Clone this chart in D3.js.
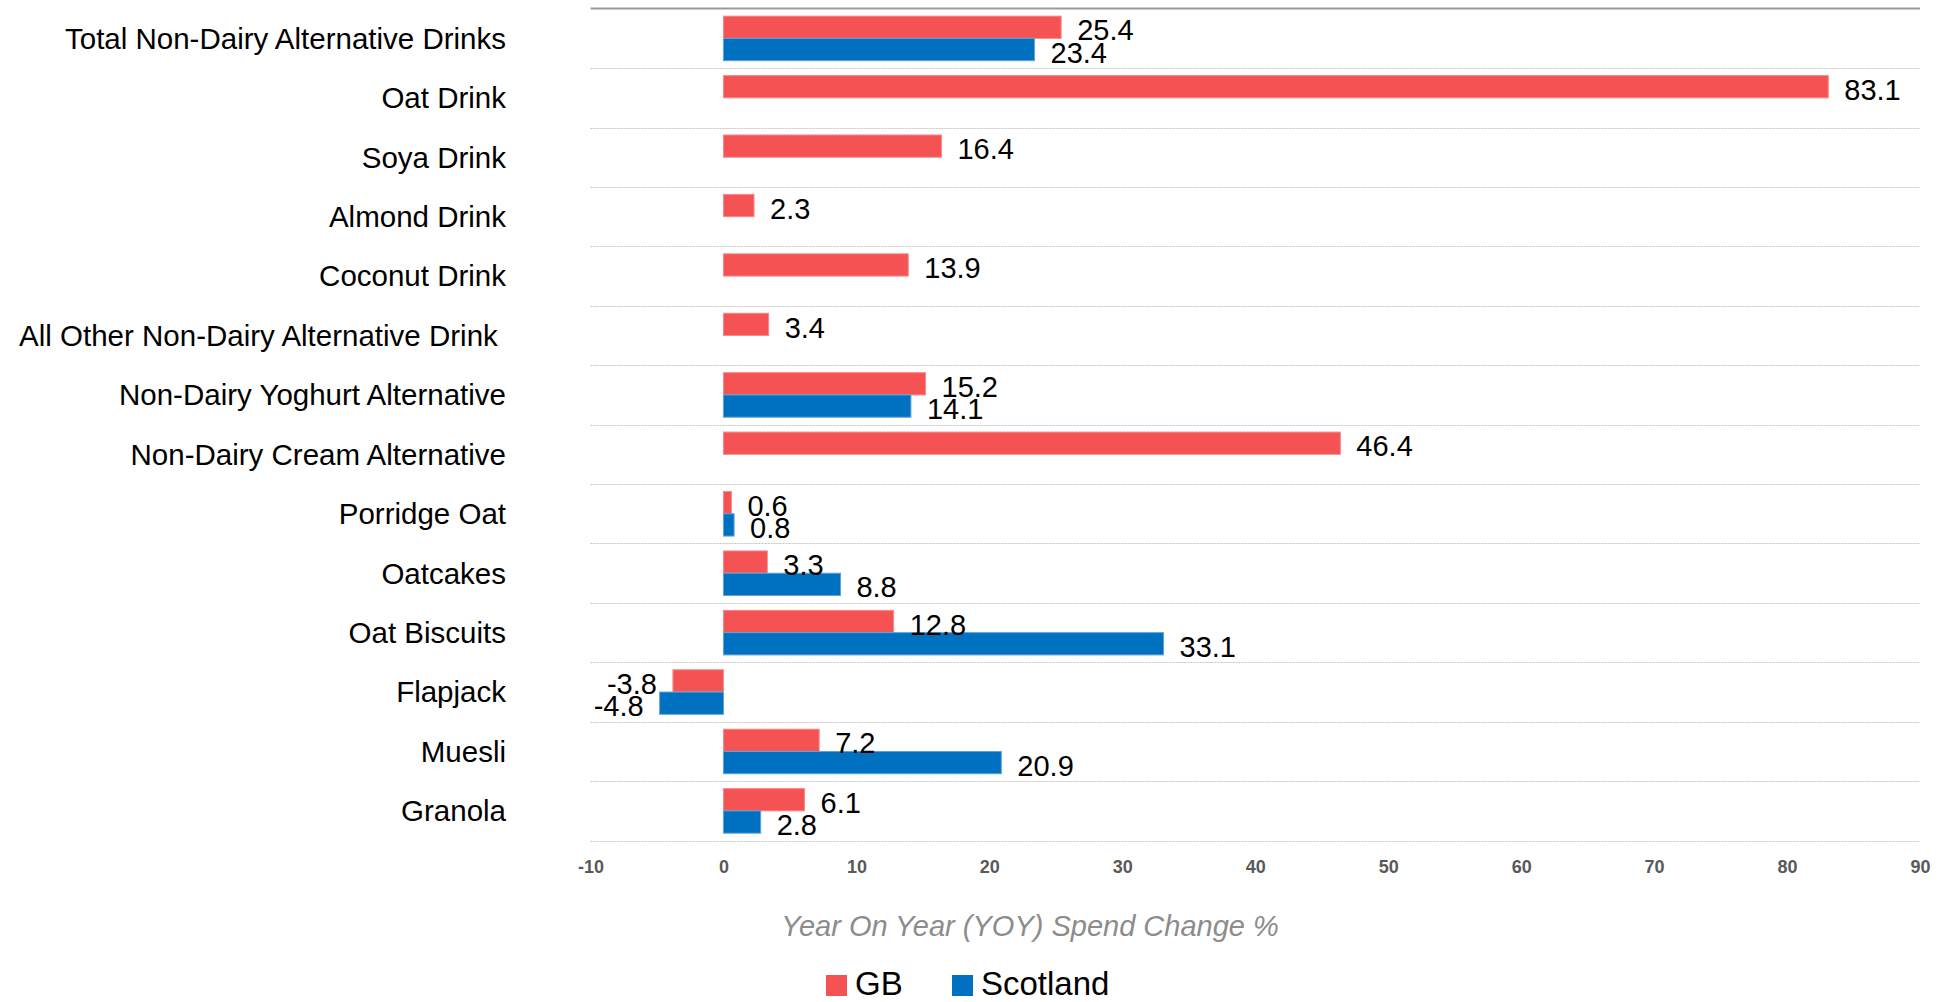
<!DOCTYPE html>
<html>
<head>
<meta charset="utf-8">
<script src="https://cdn.jsdelivr.net/npm/d3@7"></script>
<style>
  html, body { margin: 0; padding: 0; background: #fff; }
  svg { display: block; }
  text { font-family: 'Liberation Sans', Arial, sans-serif; white-space: pre; }
</style>
</head>
<body>
<svg id="chart" width="1941" height="1002"></svg>
<script>
const categories = [
  "Total Non-Dairy Alternative Drinks",
  "Oat Drink",
  "Soya Drink",
  "Almond Drink",
  "Coconut Drink",
  "All Other Non-Dairy Alternative Drink ",
  "Non-Dairy Yoghurt Alternative",
  "Non-Dairy Cream Alternative",
  "Porridge Oat",
  "Oatcakes",
  "Oat Biscuits",
  "Flapjack",
  "Muesli",
  "Granola"
];
const gbValues = [25.4, 83.1, 16.4, 2.3, 13.9, 3.4, 15.2, 46.4, 0.6, 3.3, 12.8, -3.8, 7.2, 6.1];
const scotlandValues = [23.4, null, null, null, null, null, 14.1, null, 0.8, 8.8, 33.1, -4.8, 20.9, 2.8];
const seriesNames = ["GB", "Scotland"];
const seriesColors = ["#F55253", "#0070C0"];
const xTicks = [-10, 0, 10, 20, 30, 40, 50, 60, 70, 80, 90];
const axisTitle = "Year On Year (YOY) Spend Change %";

const svg = d3.select("#chart");

const x = d3.scaleLinear().domain([-10, 90]).range([590.5, 1920]);
const y = d3.scaleBand().domain(categories).range([8.7, 840.6]).paddingInner(0.25).paddingOuter(0.125);
const sub = d3.scaleBand().domain(seriesNames).range([0, y.bandwidth()]);

// gridlines at band boundaries
const step = y.step();
const boundaries = d3.range(categories.length + 1).map(i => 8.7 + i * step);
svg.append("g").selectAll("line").data(boundaries.slice(1)).join("line")
  .attr("x1", x(-10)).attr("x2", x(90))
  .attr("y1", d => Math.round(d) + 0.5).attr("y2", d => Math.round(d) + 0.5)
  .attr("stroke", "#c4c4c4").attr("stroke-width", 1).attr("stroke-dasharray", "2,1");
svg.append("line")
  .attr("x1", x(-10)).attr("x2", x(90))
  .attr("y1", 8.5).attr("y2", 8.5)
  .attr("stroke", "#9a9a9a").attr("stroke-width", 2);

const rows = categories.map((c, i) => ({c, vals: [gbValues[i], scotlandValues[i]]}));
const barData = [];
rows.forEach(r => r.vals.forEach((v, k) => { if (v !== null) barData.push({c: r.c, s: seriesNames[k], k, v}); }));

const lighter = ["#F88A8A", "#5FA3DA"];
svg.append("g").selectAll("rect").data(barData).join("rect")
  .attr("x", d => x(Math.min(0, d.v)))
  .attr("width", d => Math.abs(x(d.v) - x(0)))
  .attr("y", d => y(d.c) + sub(d.s))
  .attr("height", sub.bandwidth())
  .attr("fill", d => seriesColors[d.k])
  .attr("stroke", d => lighter[d.k]).attr("stroke-width", 1);

// value labels
svg.append("g").selectAll("text").data(barData).join("text")
  .attr("x", d => d.v >= 0 ? x(d.v) + 16 : x(d.v) - 16)
  .attr("y", d => y(d.c) + sub(d.s) + sub.bandwidth() / 2 + 3)
  .attr("dy", "0.35em")
  .attr("text-anchor", d => d.v >= 0 ? "start" : "end")
  .attr("font-size", 29)
  .attr("fill", "#000")
  .text(d => d.v.toFixed(1));

// category labels
svg.append("g").selectAll("text").data(categories).join("text")
  .attr("x", 506)
  .attr("y", d => y(d) + y.bandwidth() / 2)
  .attr("dy", "0.35em")
  .attr("text-anchor", "end")
  .attr("font-size", 29.5)
  .attr("fill", "#000")
  .text(d => d);

// x axis
const xAxis = d3.axisBottom(x).tickValues(xTicks).tickSize(0).tickPadding(0).tickFormat(d => String(d));
const gx = svg.append("g").attr("transform", "translate(0,860)").call(xAxis);
gx.select(".domain").remove();
gx.selectAll("text")
  .attr("font-size", 18).attr("font-weight", "bold").attr("fill", "#595959")
  .attr("font-family", "'Liberation Sans', Arial, sans-serif");

svg.append("text")
  .attr("x", 1030).attr("y", 926).attr("dy", "0.35em")
  .attr("text-anchor", "middle")
  .attr("font-size", 29).attr("font-style", "italic").attr("fill", "#8c8c8c")
  .text(axisTitle);

// legend
const legend = svg.append("g");
const legendX = [826, 952];
seriesNames.forEach((s, k) => {
  legend.append("rect").attr("x", legendX[k]).attr("y", 975).attr("width", 21).attr("height", 21).attr("fill", seriesColors[k]);
  legend.append("text").attr("x", legendX[k] + 29).attr("y", 995)
    .attr("font-size", 33).attr("fill", "#000").text(s);
});
</script>
</body>
</html>
